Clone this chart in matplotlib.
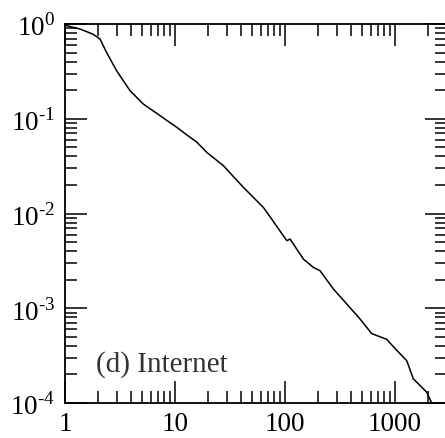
import numpy as np
import matplotlib
matplotlib.use('Agg')
import matplotlib.pyplot as plt
from matplotlib.ticker import FixedLocator, NullFormatter

plt.rcParams['font.family'] = ['Liberation Serif', 'DejaVu Serif']
plt.rcParams['mathtext.fontset'] = 'custom'
plt.rcParams['mathtext.rm'] = 'Liberation Serif'

# 曲线数据
degree = [1.0, 1.035, 1.37, 1.8, 2.08, 2.39, 2.95, 3.9, 5.15, 7.3, 10.4, 13.7, 15.7,
          19.4, 27.5, 41.8, 63.5, 75.7, 79, 104, 111, 147, 181, 208, 275, 364, 481,
          614, 840, 1036, 1277, 1468, 1941, 2157, 2215]
cum_prob = [0.98, 0.96, 0.885, 0.78, 0.695, 0.50, 0.32, 0.198, 0.143, 0.108, 0.081,
            0.0637, 0.057, 0.0443, 0.032, 0.0189, 0.0116, 0.00874, 0.0081, 0.00516,
            0.00538, 0.0033, 0.0027, 0.00249, 0.0016, 0.00111, 7.7e-4, 5.4e-4,
            4.7e-4, 3.6e-4, 2.8e-4, 1.8e-4, 1.3e-4, 1.0e-4, 0.95e-4]

x_ticks = [1, 10, 100, 1000]
x_labels = ['1', '10', '100', '1000']
y_ticks = [1e-4, 1e-3, 1e-2, 1e-1, 1e0]
y_labels = [r'10$^{\text{-4}}$', r'10$^{\text{-3}}$', r'10$^{\text{-2}}$',
            r'10$^{\text{-1}}$', r'10$^{\text{0}}$']

# 次刻度位置
x_minor = [m * 10**e for e in range(0, 4) for m in range(2, 10) if m * 10**e <= 3000]
y_minor = [m * 10.0**e for e in range(-4, 0) for m in range(2, 10)]

fig = plt.figure(figsize=(4.45, 4.39), dpi=100)
ax = fig.add_axes([65 / 445, 35 / 439, 382.5 / 445, 379 / 439])

ax.plot(degree, cum_prob, color='black', lw=1.1)

ax.set_xscale('log')
ax.set_yscale('log')
ax.set_xlim(1, 3000)
ax.set_ylim(1e-4, 1)

ax.xaxis.set_major_locator(FixedLocator(x_ticks))
ax.xaxis.set_minor_locator(FixedLocator(x_minor))
ax.yaxis.set_major_locator(FixedLocator(y_ticks))
ax.yaxis.set_minor_locator(FixedLocator(y_minor))
ax.set_xticklabels(x_labels)
ax.set_yticklabels(y_labels)
ax.xaxis.set_minor_formatter(NullFormatter())
ax.yaxis.set_minor_formatter(NullFormatter())

ax.tick_params(which='both', direction='in', top=True, right=True, width=1.1)
ax.tick_params(which='major', length=16, labelsize=19.5)
ax.tick_params(which='minor', length=8.5)
ax.tick_params(axis='x', which='major', pad=6)
ax.tick_params(axis='y', which='major', pad=7)
for s in ax.spines.values():
    s.set_linewidth(1.3)

ax.text(1.9, 2.2e-4, '(d) Internet', fontsize=21, color='#333333')

fig.savefig('out.png', dpi=100)
